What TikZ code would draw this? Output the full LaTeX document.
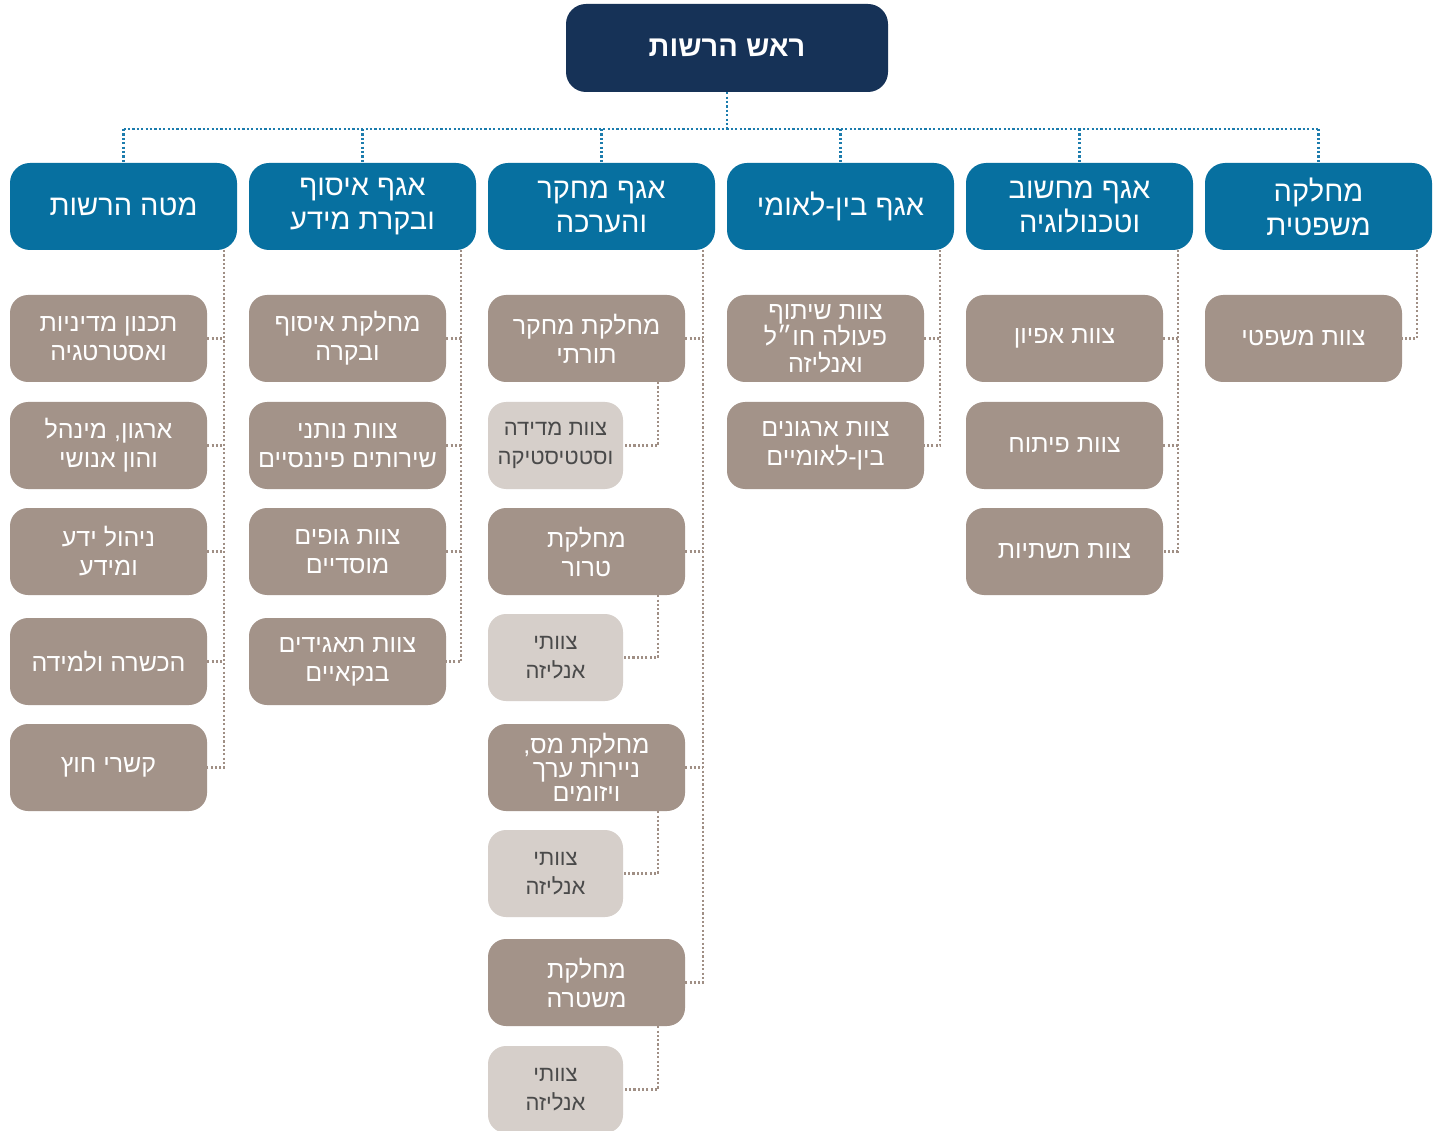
\documentclass[tikz,border=0pt]{standalone}
\usepackage{fontspec}
\usetikzlibrary{calc}
\TeXXeTstate=1
\newfontfamily\hebfont[Script=Hebrew]{Liberation Sans}
\newcommand\hebline[1]{\beginR #1\endR}
\definecolor{navy}{HTML}{163257}
\definecolor{dirblue}{HTML}{0770A0}
\definecolor{taupe}{HTML}{A39389}
\definecolor{lighttaupe}{HTML}{D6CFCA}
\definecolor{lighttext}{HTML}{4A4A4A}
\definecolor{busblue}{HTML}{1C7CAD}
\definecolor{linktaupe}{HTML}{A08F85}
\tikzset{
  headbox/.style={fill=navy, rounded corners=20pt, minimum width=322pt, minimum height=88pt,
    inner sep=0pt, text=white, font=\hebfont\fontsize{29}{34}\selectfont\bfseries, align=center},
  dirbox/.style={fill=dirblue, rounded corners=20pt, minimum width=227pt, minimum height=87pt,
    inner sep=0pt, text=white, font=\hebfont\fontsize{29}{34}\selectfont, align=center},
  subbox/.style={fill=taupe, rounded corners=18pt, minimum width=197pt, minimum height=87pt,
    inner sep=0pt, text=white, font=\hebfont\fontsize{25}{29}\selectfont, align=center},
  subboxtight/.style={subbox, font=\hebfont\fontsize{25}{25}\selectfont},
  teambox/.style={fill=lighttaupe, rounded corners=18pt, minimum width=135pt, minimum height=87pt,
    inner sep=0pt, text=lighttext, font=\hebfont\fontsize{22}{29}\selectfont, align=center},
  buslink/.style={draw=busblue, line width=2.4pt, dash pattern=on 2.2pt off 2.2pt},
  sublink/.style={draw=linktaupe, line width=2.2pt, dash pattern=on 2.1pt off 2.2pt}
}
\begin{document}
\begin{tikzpicture}[x=1pt,y=-1pt]
\clip (0,0) rectangle (1443,1131);
\fill[white] (0,0) rectangle (1443,1131);

% head
\node[headbox] (head) at (727,48) {\hebline{ראש הרשות}};

% directorates
\node[dirbox] (d1) at (123.5,206.5) {\hebline{מטה הרשות}};
\node[dirbox] (d2) at (362.5,206.5) {\hebline{אגף איסוף}\\\hebline{ובקרת מידע}};
\node[dirbox] (d3) at (601.5,206.5) {\hebline{אגף מחקר}\\\hebline{והערכה}};
\node[dirbox] (d4) at (840.5,206.5) {\hebline{אגף בין-לאומי}};
\node[dirbox] (d5) at (1079.5,206.5) {\hebline{אגף מחשוב}\\\hebline{וטכנולוגיה}};
\node[dirbox] (d6) at (1318.5,206.5) {\hebline{מחלקה}\\\hebline{משפטית}};

% bus
\coordinate (busL) at (123.5,129);
\coordinate (busR) at (1318.5,129);
\draw[buslink] (head.south) -- (head.south |- busL);
\draw[buslink] (busL) -- (busR);
\foreach \d in {d1,d2,d3,d4,d5,d6}{
  \draw[buslink] (\d.north |- busL) -- (\d.north);
}

% column 1
\node[subbox] (c11) at (108.5,338.5) {\hebline{תכנון מדיניות}\\\hebline{ואסטרטגיה}};
\node[subbox] (c12) at (108.5,445.5) {\hebline{ארגון, מינהל}\\\hebline{והון אנושי}};
\node[subbox] (c13) at (108.5,551.5) {\hebline{ניהול ידע}\\\hebline{ומידע}};
\node[subbox] (c14) at (108.5,661.5) {\hebline{הכשרה ולמידה}};
\node[subbox] (c15) at (108.5,767.5) {\hebline{קשרי חוץ}};

% column 2
\node[subbox] (c21) at (347.5,338.5) {\hebline{מחלקת איסוף}\\\hebline{ובקרה}};
\node[subbox] (c22) at (347.5,445.5) {\hebline{צוות נותני}\\\hebline{שירותים פיננסיים}};
\node[subbox] (c23) at (347.5,551.5) {\hebline{צוות גופים}\\\hebline{מוסדיים}};
\node[subbox] (c24) at (347.5,661.5) {\hebline{צוות תאגידים}\\\hebline{בנקאיים}};

% column 3
\node[subbox] (c31) at (586.5,338.5) {\hebline{מחלקת מחקר}\\\hebline{תורתי}};
\node[teambox] (t31) at (555.5,445.5) {\hebline{צוות מדידה}\\\hebline{וסטטיסטיקה}};
\node[subbox] (c32) at (586.5,551.5) {\hebline{מחלקת}\\\hebline{טרור}};
\node[teambox] (t32) at (555.5,657.5) {\hebline{צוותי}\\\hebline{אנליזה}};
\node[subboxtight, font=\hebfont\fontsize{25}{24}\selectfont] (c33) at (586.5,767.5) {\hebline{מחלקת מס,}\\\hebline{ניירות ערך}\\\hebline{ויזומים}};
\node[teambox] (t33) at (555.5,873.5) {\hebline{צוותי}\\\hebline{אנליזה}};
\node[subbox] (c34) at (586.5,982.5) {\hebline{מחלקת}\\\hebline{משטרה}};
\node[teambox] (t34) at (555.5,1089.5) {\hebline{צוותי}\\\hebline{אנליזה}};

% column 4
\node[subboxtight, font=\hebfont\fontsize{25}{26.5}\selectfont] (c41) at (825.5,338.5) {\hebline{צוות שיתוף}\\\hebline{פעולה חו״ל}\\\hebline{ואנליזה}};
\node[subbox] (c42) at (825.5,445.5) {\hebline{צוות ארגונים}\\\hebline{בין-לאומיים}};

% column 5
\node[subbox] (c51) at (1064.5,338.5) {\hebline{צוות אפיון}};
\node[subbox] (c52) at (1064.5,445.5) {\hebline{צוות פיתוח}};
\node[subbox] (c53) at (1064.5,551.5) {\hebline{צוות תשתיות}};

% column 6
\node[subbox] (c61) at (1303.5,338.5) {\hebline{צוות משפטי}};

% spines
\coordinate (s1) at ($(d1.south east)+(-13,0)$);
\coordinate (s2) at ($(d2.south east)+(-15,0)$);
\coordinate (s3) at ($(d3.south east)+(-12,0)$);
\coordinate (s4) at ($(d4.south east)+(-14,0)$);
\coordinate (s5) at ($(d5.south east)+(-15,0)$);
\coordinate (s6) at ($(d6.south east)+(-15,0)$);

\draw[sublink] (s1) |- (c15.east);
\foreach \c in {c11,c12,c13,c14}{\draw[sublink] (\c.east) -- (\c.east -| s1);}
\draw[sublink] (s2) |- (c24.east);
\foreach \c in {c21,c22,c23}{\draw[sublink] (\c.east) -- (\c.east -| s2);}
\draw[sublink] (s3) |- (c34.east);
\foreach \c in {c31,c32,c33}{\draw[sublink] (\c.east) -- (\c.east -| s3);}
\draw[sublink] (s4) |- (c42.east);
\draw[sublink] (c41.east) -- (c41.east -| s4);
\draw[sublink] (s5) |- (c53.east);
\foreach \c in {c51,c52}{\draw[sublink] (\c.east) -- (\c.east -| s5);}
\draw[sublink] (s6) |- (c61.east);

% team links
\draw[sublink] ($(c31.south east)+(-27,0)$) |- (t31.east);
\draw[sublink] ($(c32.south east)+(-27,0)$) |- (t32.east);
\draw[sublink] ($(c33.south east)+(-27,0)$) |- (t33.east);
\draw[sublink] ($(c34.south east)+(-27,0)$) |- (t34.east);
\end{tikzpicture}
\end{document}
